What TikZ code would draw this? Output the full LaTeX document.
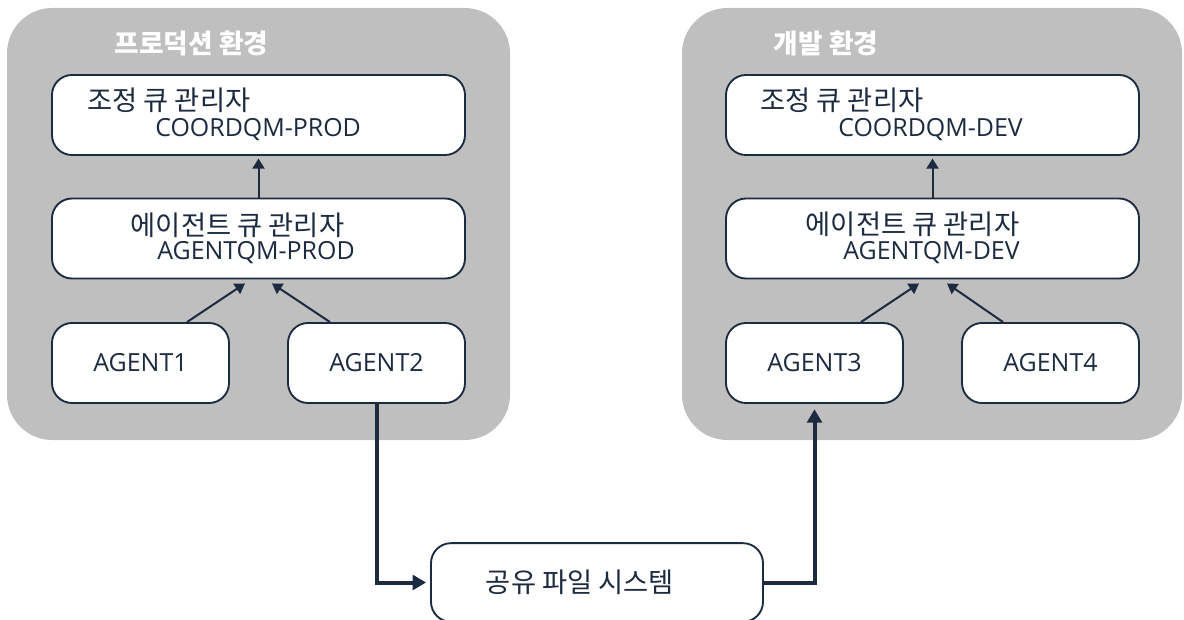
\documentclass[tikz,border=0pt]{standalone}
\usepackage{fontspec}
\setmainfont{Open Sans}
\newfontfamily\kr{Noto Sans CJK KR}
\usetikzlibrary{arrows.meta}
\definecolor{ink}{HTML}{1C2B40}
\definecolor{panelgray}{HTML}{BFBFBF}
\begin{document}
\begin{tikzpicture}[x=0.75pt,y=-0.75pt,
  panelbox/.style={fill=panelgray, draw=none, rounded corners=34pt, inner sep=0pt},
  qbox/.style={draw=ink, line width=1.4pt, fill=white, rounded corners=15pt, inner sep=0pt, minimum height=60pt},
  lat/.style={text=ink, inner sep=0pt, font=\fontsize{18.7pt}{21pt}\selectfont},
  kor/.style={text=ink, inner sep=0pt, font=\kr\fontsize{20.5pt}{23pt}\selectfont},
  ttl/.style={text=white, inner sep=0pt, font=\kr\bfseries\fontsize{20pt}{23pt}\selectfont},
  thinarr/.style={draw=ink, line width=1.5pt, -{Triangle[length=7.5pt,width=9pt]}},
  thickarr/.style={draw=ink, line width=3pt, -{Triangle[length=10pt,width=11pt]}}
]
\clip (0,0) rectangle (1184,620);
\path[use as bounding box] (0,0) rectangle (1184,620);

% panels
\node[panelbox, minimum width=377.25pt, minimum height=324pt] (p1) at (258.5,224) {};
\node[panelbox, minimum width=375pt, minimum height=324pt] (p2) at (932,224) {};
\node[ttl] (t1) at (191.5,43) {프로덕션 환경};
\node[ttl] (t2) at (826,43) {개발 환경};

% left boxes
\node[qbox, minimum width=309.75pt] (cq1) at (258.5,115) {};
\node[qbox, minimum width=309.75pt] (aq1) at (258.5,238.5) {};
\node[qbox, minimum width=132.75pt] (a1) at (140.5,363) {};
\node[qbox, minimum width=132.75pt] (a2) at (376.5,363) {};
% right boxes
\node[qbox, minimum width=309.75pt] (cq2) at (932.5,115) {};
\node[qbox, minimum width=309.75pt] (aq2) at (932.5,238.5) {};
\node[qbox, minimum width=132.75pt] (a3) at (814.5,363) {};
\node[qbox, minimum width=132.75pt] (a4) at (1050.5,363) {};
% shared fs
\node[qbox, minimum width=249pt, minimum height=59pt] (fs) at (597,582.5) {};

% labels
\node[kor, anchor=west] (cq1k) at (87,100) {조정 큐 관리자};
\node[lat, anchor=west] (cq1l) at (155,130) {COORDQM-PROD};
\node[kor] (aq1k) at (237.5,225) {에이전트 큐 관리자};
\node[lat] (aq1l) at (256,253) {AGENTQM-PROD};
\node[lat] (a1l) at (a1) {AGENT1};
\node[lat] (a2l) at (a2) {AGENT2};

\node[kor, anchor=west] (cq2k) at (760,100) {조정 큐 관리자};
\node[lat, anchor=west] (cq2l) at (838,130) {COORDQM-DEV};
\node[kor] (aq2k) at (912.5,224) {에이전트 큐 관리자};
\node[lat] (aq2l) at (931.5,253) {AGENTQM-DEV};
\node[lat] (a3l) at (a3) {AGENT3};
\node[lat] (a4l) at (a4) {AGENT4};

\node[kor] (fsl) at (580,582) {공유 파일 시스템};

% arrows
\draw[thinarr, shorten >=2pt] (aq1.north) -- (cq1.south);
\draw[thinarr, shorten >=2pt] (aq2.north) -- (cq2.south);
\draw[thinarr] ([xshift=34.875pt]a1.north) -- ([xshift=-10.125pt,yshift=-3pt]aq1.south);
\draw[thinarr] ([xshift=-34.875pt]a2.north) -- ([xshift=10.125pt,yshift=-3pt]aq1.south);
\draw[thinarr] ([xshift=34.875pt]a3.north) -- ([xshift=-10.125pt,yshift=-3pt]aq2.south);
\draw[thinarr] ([xshift=-35.625pt]a4.north) -- ([xshift=10.875pt,yshift=-3pt]aq2.south);

\draw[thickarr, shorten >=3pt] (a2.south) |- (fs.west);
\draw[thickarr, shorten >=4pt] (fs.east) -| (a3.south);
\end{tikzpicture}
\end{document}
